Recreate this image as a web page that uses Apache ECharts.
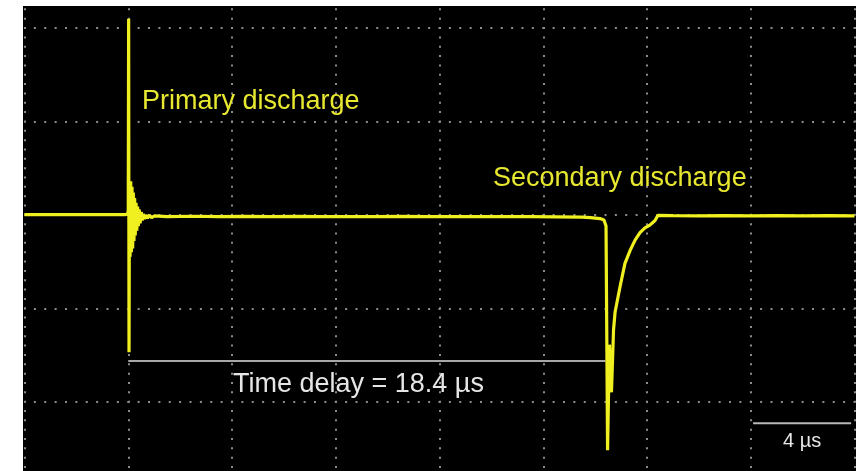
<!DOCTYPE html>
<html>
<head>
<meta charset="utf-8">
<script src="https://cdn.jsdelivr.net/npm/echarts@6/dist/echarts.min.js"></script>
<style>
  html, body { margin: 0; padding: 0; background: #ffffff; }
  #wrap { position: relative; width: 861px; height: 471px; background: #ffffff; overflow: hidden; }
  #clip { position: absolute; left: 23px; top: 6px; width: 833px; height: 465px; background: #000000; overflow: hidden; }
  #chart { position: absolute; left: 0px; top: -72px; width: 833px; height: 562px; }
</style>
</head>
<body>
<div id="wrap"><div id="clip"><div id="chart"></div></div></div>
<script>
// Time axis in microseconds (4 µs per division), vertical axis in divisions
const xTicks = [0, 4, 8, 12, 16, 20, 24, 28, 32];
const yTicks = [-3, -2, -1, 0, 1, 2, 3];

// Trace: time (µs) and level (div)
const traceTime = [
  0, 1.0, 2.0, 3.0, 3.9, 3.98, 4.0, 4.015, 4.03,
  4.045, 4.07, 4.095, 4.12, 4.145, 4.17, 4.195, 4.22, 4.245, 4.27,
  4.30, 4.33, 4.36, 4.39, 4.42, 4.46, 4.50, 4.54, 4.58, 4.63, 4.68, 4.74, 4.82, 4.9, 5.0,
  5.5, 6.5, 7.5, 8.5, 9.5, 10.5, 11.5, 12.5, 13.5, 14.5, 15.5, 16.5, 17.5, 18.5, 19.5, 20.5, 21.5,
  21.82, 22.19, 22.34, 22.42, 22.48, 22.55, 22.63, 22.71, 22.77, 22.96, 23.15, 23.35, 23.54,
  23.73, 23.92, 24.11, 24.31, 24.38, 24.42, 25, 26, 27, 28, 29, 30, 31, 32
];
const traceValue = [
  0.003, 0.004, 0.002, 0.004, 0.003, 0.01, 0.05, 2.10, -1.47,
  0.30, -0.45, 0.36, -0.40, 0.30, -0.36, 0.24, -0.28, 0.18, -0.22,
  0.13, -0.17, 0.09, -0.12, 0.06, -0.09, 0.03, -0.06, 0.01, -0.045, 0.0, -0.035, -0.005, -0.03, -0.012,
  -0.02, -0.015, -0.02, -0.017, -0.02, -0.016, -0.019, -0.018, -0.02, -0.017, -0.02, -0.018, -0.02, -0.019, -0.02, -0.022, -0.025,
  -0.03, -0.04, -0.055, -0.12, -2.52, -1.39, -1.90, -1.23, -1.04, -0.77, -0.52, -0.38, -0.27,
  -0.19, -0.14, -0.11, -0.06, -0.065, -0.005, -0.008, -0.01, -0.008, -0.01, -0.009, -0.01, -0.008, -0.01
];

// Annotation lines: time delay marker and 4 µs scale bar
const delayTime = [4.0, 22.4];
const delayValue = [-1.565, -1.565];
const scaleTime = [28.09, 31.87];
const scaleValue = [-2.23, -2.23];

const zip = (a, b) => a.map((v, i) => [v, b[i]]);

const chart = echarts.init(document.getElementById('chart'), null, { renderer: 'canvas' });

const bright = '#f0f020';
const dim = '#b8b82c';
const font = '"Liberation Sans", Arial, sans-serif';

chart.setOption({
  animation: false,
  backgroundColor: 'transparent',
  grid: { left: 1.5, right: 1.5, top: 0.65, height: 560.4 },
  xAxis: {
    type: 'value', min: xTicks[0], max: xTicks[xTicks.length - 1], interval: 4,
    axisLine: { show: false }, axisTick: { show: false }, axisLabel: { show: false },
    splitLine: { show: true, lineStyle: { color: '#8c8c8c', width: 2, type: [2, 7.34], dashOffset: 1 } }
  },
  yAxis: {
    type: 'value', min: yTicks[0], max: yTicks[yTicks.length - 1], interval: 1,
    axisLine: { show: false }, axisTick: { show: false }, axisLabel: { show: false },
    splitLine: { show: true, lineStyle: { color: '#8c8c8c', width: 2, type: [2, 8.375], dashOffset: 1 } }
  },
  visualMap: {
    type: 'piecewise', show: false, dimension: 0, seriesIndex: 0,
    pieces: [
      { lt: 4.005, color: bright },
      { gte: 4.005, lt: 4.04, color: dim },
      { gte: 4.04, lt: 22.44, color: bright },
      { gte: 22.44, lt: 22.74, color: dim },
      { gte: 22.74, color: bright }
    ]
  },
  series: [
    {
      type: 'line', data: zip(traceTime, traceValue), showSymbol: false, silent: true,
      lineStyle: { width: 3.2, color: bright }, z: 3
    },
    {
      type: 'line', data: zip(delayTime, delayValue), showSymbol: false, silent: true,
      lineStyle: { width: 2, color: '#a8a8a8' }, z: 2
    },
    {
      type: 'line', data: zip(scaleTime, scaleValue), showSymbol: false, silent: true,
      lineStyle: { width: 2, color: '#b8b8b8' }, z: 2
    }
  ],
  graphic: [
    { type: 'text', x: 119, y: 168, z: 10, style: { text: 'Primary discharge', fill: '#e8e830', fontSize: 27, fontFamily: font, verticalAlign: 'middle' } },
    { type: 'text', x: 470, y: 245, z: 10, style: { text: 'Secondary discharge', fill: '#e8e830', fontSize: 27, fontFamily: font, verticalAlign: 'middle' } },
    { type: 'text', x: 210, y: 451, z: 10, style: { text: 'Time delay = 18.4 µs', fill: '#e6e6e6', fontSize: 27, fontFamily: font, verticalAlign: 'middle' } },
    { type: 'text', x: 760, y: 507, z: 10, style: { text: '4 µs', fill: '#e6e6e6', fontSize: 20, fontFamily: font, verticalAlign: 'middle' } }
  ]
});
</script>
</body>
</html>
